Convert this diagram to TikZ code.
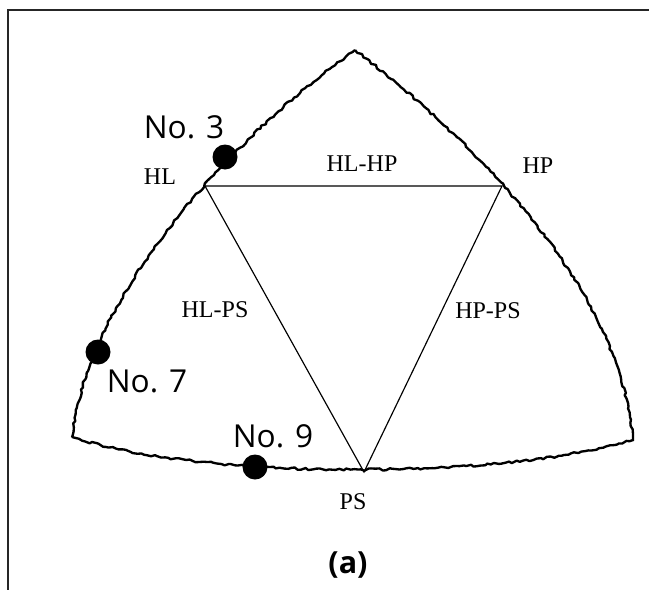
\documentclass[tikz,border=0pt]{standalone}
\usepackage{fontspec}
\setmainfont{Liberation Serif}
\newfontfamily\labelsans{Open Sans}
\usetikzlibrary{
  decorations.pathmorphing % rough outline
}

\begin{document}
\begin{tikzpicture}[x=0.03cm, y=-0.03cm,
    rough/.style={line width=2pt, line join=round, decorate,
      decoration={random steps, segment length=3pt, amplitude=1pt}},
    sample/.style={circle, fill=black, inner sep=0pt, minimum size=0.75cm},
    axislabel/.style={inner sep=0pt, font=\fontsize{20.5}{24}\selectfont},
    samplelabel/.style={inner sep=0pt, font=\labelsans\fontsize{27}{32}\selectfont}]
        \useasboundingbox (0,0) rectangle (649,590);

        % Frame
        \draw[line width=1.4pt, black!85] (649,10) -- (8,10) -- (8,590);

        % Coordinates
        \coordinate (top) at (355,50);
        \coordinate (BL) at (72,437);
        \coordinate (BR) at (633,440);
        \coordinate (HL) at (205,186);
        \coordinate (HP) at (502,186);
        \coordinate (PS) at (364,472);

        % Rough outline
        \pgfmathsetseed{7}
        \draw[rough] (top) .. controls (255,120) and (90,280) .. (BL);
        \draw[rough] (top) .. controls (460,130) and (620,280) .. (BR);
        \draw[rough] (BL) .. controls (200,480) and (500,480) .. (BR);

        % Triangle
        \draw[line width=1pt] (HL) -- (HP) -- (PS) -- cycle;

        % Vertex and edge labels
        \node[axislabel] (hl) at (160,177) {HL};
        \node[axislabel] (hp) at (538,166) {HP};
        \node[axislabel] (ps) at (353,502) {PS};
        \node[axislabel] (hlhp) at (362,164) {HL-HP};
        \node[axislabel] (hlps) at (215,310) {HL-PS};
        \node[axislabel] (hpps) at (488,311) {HP-PS};

        % Samples
        \node[sample] (s3) at (225,157) {};
        \node[sample] (s7) at (98,352) {};
        \node[sample] (s9) at (255,467) {};
        \node[samplelabel] (n3) at (184,127) {No. 3};
        \node[samplelabel] (n7) at (147,381) {No. 7};
        \node[samplelabel] (n9) at (273,436) {No. 9};

        % Caption
        \node[inner sep=0pt, font=\labelsans\bfseries\fontsize{26}{30}\selectfont] (cap) at (348,565) {(a)};
    \end{tikzpicture}
\end{document}
